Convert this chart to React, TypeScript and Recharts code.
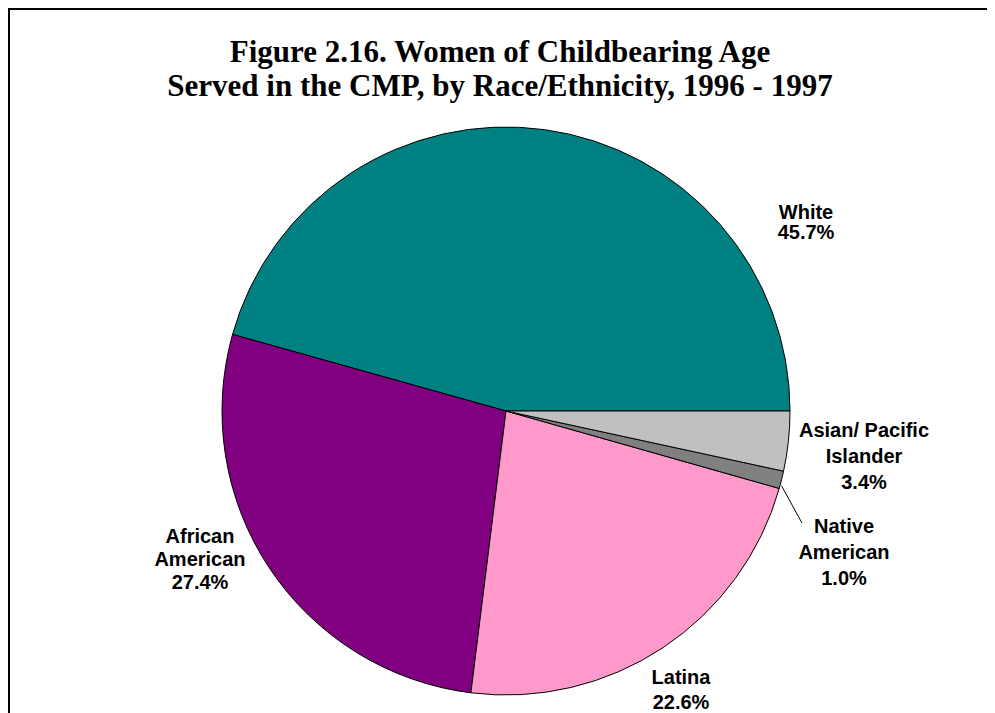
import React from "react";
import { PieChart, Pie, Cell, Customized } from "recharts";

// Data
const categories = [
  "White",
  "African American",
  "Latina",
  "Native American",
  "Asian/ Pacific Islander",
];
const shares = [45.7, 27.4, 22.6, 1.0, 3.4];
const labelLines = [
  ["White"],
  ["African", "American"],
  ["Latina"],
  ["Native", "American"],
  ["Asian/ Pacific", "Islander"],
];
const sliceColors = ["#008080", "#800080", "#FF99CC", "#808080", "#C0C0C0"];

const titleLines = [
  "Figure 2.16. Women of Childbearing Age",
  "Served in the CMP, by Race/Ethnicity, 1996 - 1997",
];

// label layout: offset of label centre from pie centre, first baseline, line step
const labelLayout = [
  { dx: 300, dy: -192, step: 20 },
  { dx: -306, dy: 132, step: 23 },
  { dx: 175, dy: 273, step: 25 },
  { dx: 338, dy: 122, step: 26 },
  { dx: 358, dy: 26, step: 26 },
];

const W = 977;
const H = 703;
const CX = 496;
const CY = 401;
const R = 284;

const data = categories.map((name, i) => ({ name, value: shares[i] }));

const RAD = Math.PI / 180;

function renderLabel(props: any) {
  const { cx, cy, index, midAngle, outerRadius, value } = props;
  const lay = labelLayout[index];
  const lines = [...labelLines[index], `${Number(value).toFixed(1)}%`];
  const x = cx + lay.dx;
  let leader = null;
  if (index === 3) {
    const sx = cx + outerRadius * Math.cos(-midAngle * RAD);
    const sy = cy + outerRadius * Math.sin(-midAngle * RAD);
    leader = (
      <line
        x1={sx}
        y1={sy + 6}
        x2={cx + 296}
        y2={cy + 112}
        stroke="#000"
        strokeWidth={1}
      />
    );
  }
  return (
    <g key={`lbl-${index}`}>
      {leader}
      <text
        x={x}
        y={cy + lay.dy}
        textAnchor="middle"
        fontFamily="'Liberation Sans', Arial, sans-serif"
        fontWeight="bold"
        fontSize={20}
        fill="#000"
      >
        {lines.map((ln, j) => (
          <tspan key={j} x={x} y={cy + lay.dy + j * lay.step}>
            {ln}
          </tspan>
        ))}
      </text>
    </g>
  );
}

function Title() {
  return (
    <g>
      {titleLines.map((t, i) => (
        <text
          key={i}
          x={490}
          y={52 + i * 34}
          textAnchor="middle"
          fontFamily="'Liberation Serif', 'Times New Roman', serif"
          fontWeight="bold"
          fontSize={31}
          fill="#000"
        >
          {t}
        </text>
      ))}
    </g>
  );
}

export default function App() {
  return (
    <>
      <style>{`body{margin:8px 8px 0 8px;overflow:hidden;}`}</style>
      <div
        style={{
          width: 979,
          height: 705,
          boxSizing: "border-box",
          borderTop: "2px solid #000",
          borderLeft: "2px solid #000",
          position: "relative",
          background: "#fff",
        }}
      >
        <PieChart width={W} height={H} margin={{ top: 0, right: 0, bottom: 0, left: 0 }}>
          <Customized component={<Title />} />
          <Pie
            data={data}
            dataKey="value"
            nameKey="name"
            cx={CX}
            cy={CY}
            outerRadius={R}
            startAngle={0}
            endAngle={360}
            stroke="#000"
            strokeWidth={1}
            label={renderLabel}
            labelLine={false}
            isAnimationActive={false}
          >
            {data.map((d, i) => (
              <Cell key={d.name} fill={sliceColors[i]} />
            ))}
          </Pie>
        </PieChart>
      </div>
    </>
  );
}
